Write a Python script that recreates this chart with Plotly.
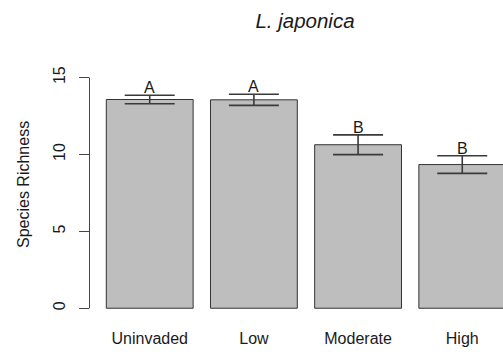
import plotly.graph_objects as go

# Species richness by invasion level (mean ± SE) with significance groups
categories = ["Uninvaded", "Low", "Moderate", "High"]
richness_mean = [13.57, 13.55, 10.63, 9.34]
richness_se = [0.28, 0.36, 0.64, 0.57]
group_letters = ["A", "A", "B", "B"]
y_ticks = [0, 5, 10, 15]

FONT = "Liberation Sans, Arial, Helvetica, sans-serif"
TEXT = "#1a1a1a"
LINE = "#444444"

W, H = 503, 356

fig = go.Figure()

fig.add_trace(go.Bar(
    x=categories,
    y=richness_mean,
    width=1 / 1.2,
    marker=dict(color="#bebebe", line=dict(color="#333333", width=1)),
    error_y=dict(type="data", array=richness_se, visible=True,
                 color="#3a3a3a", thickness=1.6, width=25),
    hoverinfo="skip",
))

# Significance letters just above each error bar
for cat, m, se, lab in zip(categories, richness_mean, richness_se, group_letters):
    fig.add_annotation(x=cat, y=m + se, text=lab, showarrow=False,
                       yanchor="bottom", yshift=-3,
                       font=dict(family=FONT, size=16, color=TEXT))

# y axis line spans only the tick range, as in base R graphics
fig.add_shape(type="line", xref="x domain", yref="y",
              x0=0, x1=0, y0=min(y_ticks), y1=max(y_ticks),
              line=dict(color=LINE, width=1))

fig.add_annotation(text="Species Richness", xref="paper", yref="paper",
                   x=23 / W, y=1 - 185 / H, textangle=-90, showarrow=False,
                   xanchor="center", yanchor="middle",
                   font=dict(family=FONT, size=16, color=TEXT))

fig.update_layout(
    width=W, height=H,
    margin=dict(l=0, r=0, t=0, b=0),
    paper_bgcolor="white", plot_bgcolor="white",
    showlegend=False,
    title=dict(text="<i>L. japonica</i>", x=305 / W, y=1 - 21 / H,
               xanchor="center", yanchor="middle",
               font=dict(family=FONT, size=20.5, color=TEXT)),
    xaxis=dict(domain=[89.5 / W, 1], range=[-0.578, 3.391],
               showgrid=False, zeroline=False, showline=False,
               ticks="", tickfont=dict(family=FONT, size=16, color=TEXT),
               ticklabelstandoff=18),
    yaxis=dict(domain=[47 / H, 1], range=[-0.05, 20.04],
               tickvals=y_ticks, ticktext=[str(v) for v in y_ticks],
               showgrid=False, zeroline=False, showline=False,
               ticks="outside", ticklen=10, tickwidth=1, tickcolor=LINE,
               tickangle=-90, ticklabelstandoff=7,
               tickfont=dict(family=FONT, size=16, color=TEXT)),
)

fig.write_html("out.html")
